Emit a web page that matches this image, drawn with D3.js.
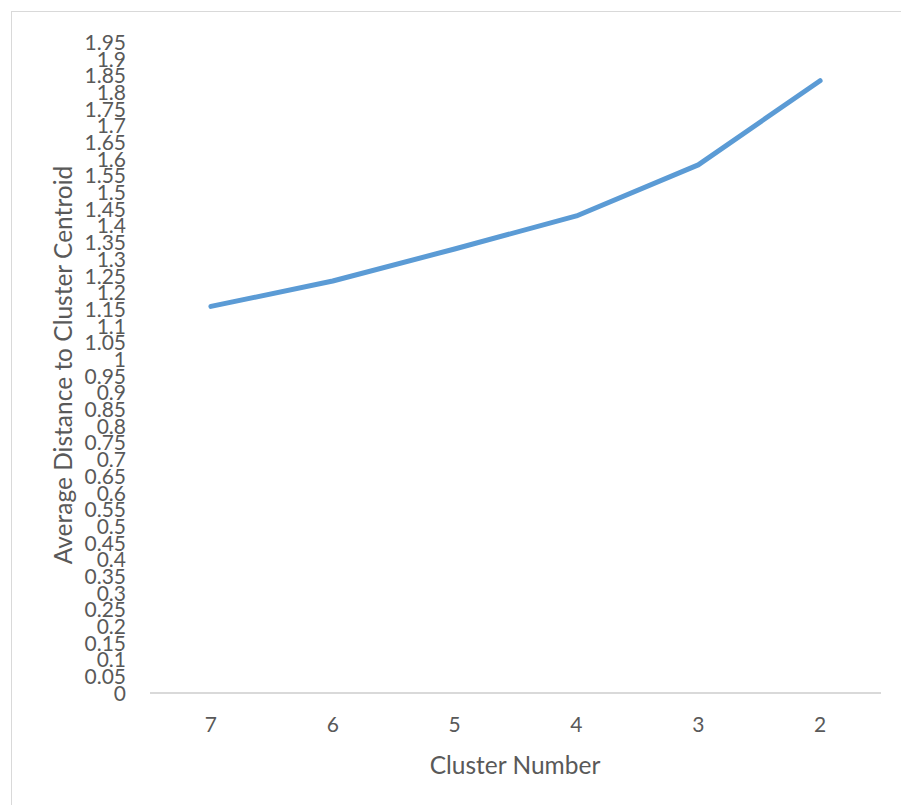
<!DOCTYPE html>
<html>
<head>
<meta charset="utf-8">
<script src="https://cdn.jsdelivr.net/npm/d3@7"></script>
<style>
  html, body { margin: 0; padding: 0; background: #fff; }
  svg { display: block; }
  text { font-family: Lato, "Open Sans", sans-serif; fill: #595959; }
</style>
</head>
<body>
<svg id="chart" width="901" height="805"></svg>
<script>
const categories = ["7", "6", "5", "4", "3", "2"];
const values = [1.158, 1.234, 1.330, 1.429, 1.582, 1.834];
const yTicks = d3.range(0, 40).map(i => +(i * 0.05).toFixed(2));
const yTitle = "Average Distance to Cluster Centroid";
const xTitle = "Cluster Number";

const svg = d3.select("#chart");
const W = 901, H = 805;
const plot = { left: 150, right: 881, top: 42, bottom: 693 };

// chart border
svg.append("rect")
  .attr("x", 11.5).attr("y", 11.5)
  .attr("width", W).attr("height", H)
  .attr("fill", "none").attr("stroke", "#d9d9d9").attr("stroke-width", 1);

const x = d3.scaleBand().domain(categories).range([plot.left, plot.right]).padding(0);
const y = d3.scaleLinear().domain([0, 1.95]).range([plot.bottom, plot.top]);

// y tick labels
const yAxis = d3.axisLeft(y).tickValues(yTicks).tickSize(0).tickPadding(0)
  .tickFormat(d => String(d));
const gy = svg.append("g").attr("transform", "translate(126,0)").call(yAxis);
gy.select(".domain").remove();
gy.selectAll("text").style("font-size", "21px").attr("fill", "#595959")
  .style("font-family", "Lato, 'Open Sans', sans-serif").attr("dy", "0.35em");

// x axis
const xAxis = d3.axisBottom(x).tickSize(0).tickPadding(0);
const gx = svg.append("g").attr("transform", `translate(0,${plot.bottom})`).call(xAxis);
gx.select(".domain").attr("stroke", "#d9d9d9").attr("stroke-width", 2)
  .attr("d", `M${plot.left},0H${plot.right}`);
gx.selectAll("text").style("font-size", "21px").attr("fill", "#595959")
  .style("font-family", "Lato, 'Open Sans', sans-serif")
  .attr("y", 32).attr("dy", "0.35em");

// line
const line = d3.line()
  .x((d, i) => x(categories[i]) + x.bandwidth() / 2)
  .y(d => y(d));
svg.append("path").datum(values)
  .attr("d", line)
  .attr("fill", "none")
  .attr("stroke", "#5b9bd5")
  .attr("stroke-width", 5)
  .attr("stroke-linecap", "round")
  .attr("stroke-linejoin", "round");

// titles
svg.append("text")
  .attr("transform", `translate(72,365) rotate(-90)`)
  .attr("text-anchor", "middle")
  .style("font-size", "24.5px")
  .text(yTitle);

svg.append("text")
  .attr("x", 515)
  .attr("y", 765)
  .attr("dy", "0.35em")
  .attr("text-anchor", "middle")
  .style("font-size", "24.5px")
  .text(xTitle);
</script>
</body>
</html>
